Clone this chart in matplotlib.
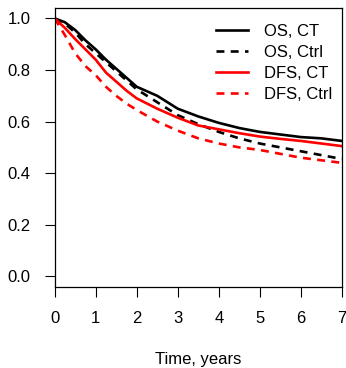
import numpy as np
import matplotlib.pyplot as plt

# survival estimates read at fixed follow-up times (years)
time = [0, 0.25, 0.5, 0.75, 1, 1.25, 1.5, 1.75, 2, 2.5, 3, 3.5, 4, 4.5, 5, 5.5, 6, 6.5, 7]
os_ct = [1.0, 0.985, 0.955, 0.915, 0.88, 0.84, 0.805, 0.77, 0.735, 0.70, 0.65, 0.62,
         0.595, 0.575, 0.56, 0.55, 0.54, 0.535, 0.525]
os_ctrl = [1.0, 0.98, 0.945, 0.90, 0.865, 0.83, 0.795, 0.76, 0.725, 0.675, 0.625, 0.59,
           0.56, 0.535, 0.515, 0.50, 0.485, 0.47, 0.455]
dfs_ct = [1.0, 0.963, 0.92, 0.88, 0.84, 0.79, 0.755, 0.72, 0.69, 0.65, 0.615, 0.585,
          0.57, 0.555, 0.542, 0.533, 0.525, 0.515, 0.505]
dfs_ctrl = [1.0, 0.935, 0.865, 0.815, 0.78, 0.735, 0.70, 0.67, 0.645, 0.60, 0.565, 0.535,
            0.515, 0.50, 0.49, 0.475, 0.46, 0.45, 0.44]

plt.rcParams['font.family'] = ['Liberation Sans', 'DejaVu Sans']

fig = plt.figure(figsize=(3.46, 3.68), dpi=100)
ax = fig.add_axes([0.158, 0.221, 0.83, 0.757])

lw = 1.9
dash = (0, (3.0, 2.4))
ax.plot(time, os_ct, color='black', lw=lw, label='OS, CT')
ax.plot(time, os_ctrl, color='black', lw=lw, ls=dash, label='OS, Ctrl')
ax.plot(time, dfs_ct, color='red', lw=lw, label='DFS, CT')
ax.plot(time, dfs_ctrl, color='red', lw=lw, ls=dash, label='DFS, Ctrl')

ax.set_xlim(0, 7)
ax.set_ylim(-0.04, 1.04)
ax.set_xticks(range(8))
ax.set_yticks(np.arange(0, 1.01, 0.2))
ax.set_yticklabels(['0.0', '0.2', '0.4', '0.6', '0.8', '1.0'])
ax.tick_params(axis='both', labelsize=12, length=7.5, width=0.8)
ax.tick_params(axis='y', pad=10)
ax.tick_params(axis='x', pad=10)
for s in ax.spines.values():
    s.set_linewidth(0.9)

ax.set_xlabel('Time, years', fontsize=12, labelpad=18.5)

ax.legend(loc='upper right', frameon=False, fontsize=12, handlelength=1.95,
          handletextpad=0.95, labelspacing=0.36, borderaxespad=0.0,
          bbox_to_anchor=(0.99, 0.967))

fig.savefig('out.png', dpi=100)
